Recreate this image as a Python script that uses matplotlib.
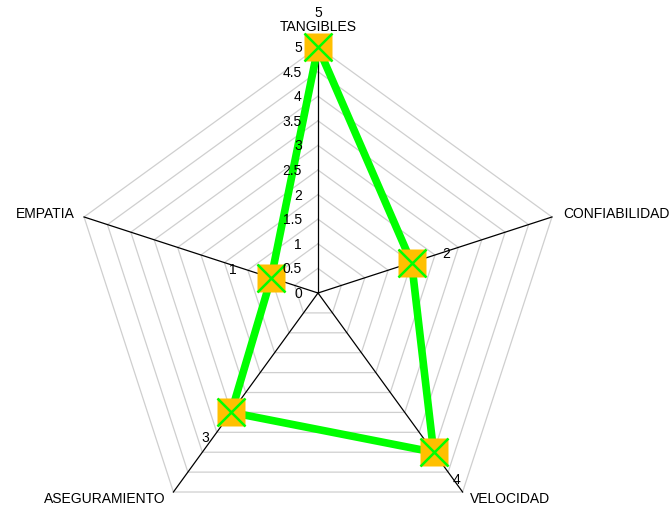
import numpy as np
import matplotlib.pyplot as plt

plt.rcParams['font.family'] = ['Liberation Sans', 'DejaVu Sans']

# Data
categories = ['TANGIBLES', 'CONFIABILIDAD', 'VELOCIDAD', 'ASEGURAMIENTO', 'EMPATIA']
values = [5, 2, 4, 3, 1]
rings = np.arange(0.5, 5.01, 0.5)
tick_labels = ['0', '0.5', '1', '1.5', '2', '2.5', '3', '3.5', '4', '4.5', '5']
rmax = 5

# angles: first axis on top, clockwise
angles = np.deg2rad(90 - 72 * np.arange(len(categories)))
cosv, sinv = np.cos(angles), np.sin(angles)

fig = plt.figure(figsize=(6.7, 5.1), dpi=100)
ax = fig.add_axes([0, 0, 1, 1])
scale = 246 / rmax  # px per unit
ax.set_xlim(-318 / scale, (670 - 318) / scale)
ax.set_ylim(-(510 - 294) / scale, 294 / scale)
ax.axis('off')

# grid rings
for r in rings:
    xs = np.append(r * cosv, r * cosv[0])
    ys = np.append(r * sinv, r * sinv[0])
    ax.plot(xs, ys, color='#cfcfcf', lw=0.9, zorder=1)

# spokes
for c, s in zip(cosv, sinv):
    ax.plot([0, rmax * c], [0, rmax * s], color='black', lw=0.9, zorder=2)

# tick labels on top axis (drawn above the series line)
for i, t in enumerate(tick_labels):
    ax.text(-0.33, i * 0.5, t, ha='right', va='center', fontsize=10, zorder=8)

# category labels
label_pos = [(0, 5.43, 'center'), (4.98, 1.62, 'left'), (3.08, -4.17, 'left'),
             (-3.10, -4.17, 'right'), (-4.95, 1.62, 'right')]
for name, (lx, ly, ha) in zip(categories, label_pos):
    ax.text(lx, ly, name, ha=ha, va='center', fontsize=10)

# series
vx = np.array(values) * cosv
vy = np.array(values) * sinv
ax.plot(np.append(vx, vx[0]), np.append(vy, vy[0]), color='#00ff00', lw=5.5,
        solid_joinstyle='miter', zorder=4)
ax.plot(vx, vy, ls='none', marker='s', ms=20, mfc='#ffc000', mec='none', zorder=5)
ax.plot(vx, vy, ls='none', marker='x', ms=20, mec='#00ff00', mew=1.8, zorder=6)

# data labels (offsets in px)
offsets = [(0, 35), (35, 10), (23, -27), (-26, -25), (-38, 9)]
for x, y, v, (dx, dy) in zip(vx, vy, values, offsets):
    ax.annotate(str(v), (x, y), xytext=(dx * 0.72, dy * 0.72), textcoords='offset points',
                ha='center', va='center', fontsize=10, zorder=7)

plt.savefig('out.png', dpi=100)
